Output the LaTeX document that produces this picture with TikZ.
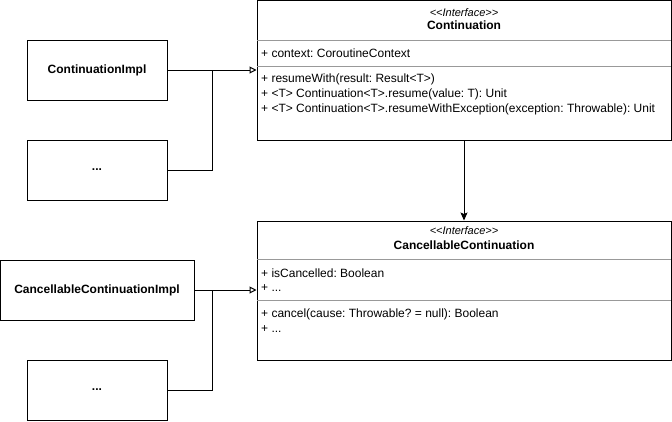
\documentclass[tikz,border=0pt]{standalone}
\usepackage{fontspec}
\newfontfamily\umlfont{Liberation Sans}
\usetikzlibrary{arrows.meta,positioning}
\frenchspacing
\tikzset{>=Stealth,
  every node/.style={font=\umlfont\fontsize{12}{14}\selectfont},
  classbox/.style={draw,line width=1pt,minimum width=140pt,minimum height=60pt,inner sep=0pt,
    font=\umlfont\fontsize{12}{14}\selectfont\bfseries},
  ifacebox/.style={draw,line width=1pt,minimum width=414pt,inner sep=0pt},
  stereo/.style={font=\umlfont\fontsize{11}{13}\selectfont\itshape},
  member/.style={anchor=west,inner sep=0pt},
  sep/.style={line width=.8pt,black!40},
  implements/.style={-{Triangle[open,length=7pt,width=7pt]},line width=1pt},
  assoc/.style={-{Stealth[length=8pt,width=7pt,inset=1.5pt]},line width=1pt}
}

\begin{document}
\begin{tikzpicture}[x=1pt,y=-1pt]
\useasboundingbox (0,0) rectangle (672,421);
% interfaces
\node[ifacebox,minimum height=140pt] (cont) at (464,70.5) {};
\draw[sep] (257,40) -- (671,40);
\draw[sep] (257,66) -- (671,66);
\node[stereo] at (464,12.5) {<<Interface>>};
\node[font=\umlfont\fontsize{12}{14}\selectfont\bfseries] (conttitle) at (464,25) {Continuation};
\node[member] at (261,53) {+ context: CoroutineContext};
\node[member] at (261,79) {+ resumeWith(result: Result<T>)};
\node[member] at (261,94) {+ <T> Continuation<T>.resume(value: T): Unit};
\node[member] at (261,109) {+ <T> Continuation<T>.resumeWithException(exception: Throwable): Unit};

\node[ifacebox,minimum height=139pt] (canc) at (464,290.5) {};
\draw[sep] (257,259) -- (671,259);
\draw[sep] (257,300) -- (671,300);
\node[stereo] at (464,231) {<<Interface>>};
\node[font=\umlfont\fontsize{12}{14}\selectfont\bfseries] (canctitle) at (464,245) {CancellableContinuation};
\node[member] at (261,273) {+ isCancelled: Boolean};
\node[member] at (261,288) {+ ...};
\node[member] at (261,314) {+ cancel(cause: Throwable? = null): Boolean};
\node[member] at (261,329) {+ ...};

% implementations
\node[classbox] (contimpl) at (97,70) {ContinuationImpl};
\node[classbox] (contdots) at (97,170) {...};
\node[classbox,minimum width=194pt] (cancimpl) at (97,290) {CancellableContinuationImpl};
\node[classbox] (cancdots) at (97,390) {...};

\coordinate (J1) at (212,70);
\coordinate (J2) at (212,290);
\draw[implements] (contimpl.east) -- (cont.west |- contimpl.east);
\draw[line width=1pt] (contdots.east) -| (J1);
\draw[implements] (cancimpl.east) -- (canc.west |- cancimpl.east);
\draw[line width=1pt] (cancdots.east) -| (J2);

\draw[assoc] (cont.south) -- (canc.north);
\end{tikzpicture}
\end{document}
